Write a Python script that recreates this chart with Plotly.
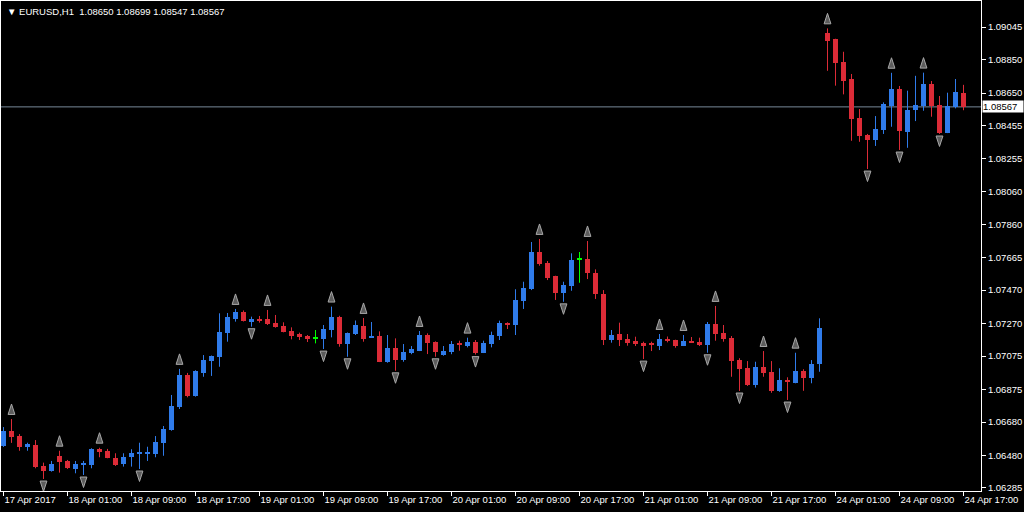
import plotly.graph_objects as go
from datetime import datetime, timedelta

# ---------------- data ----------------
symbol_title = "EURUSD,H1"
last_ohlc = [1.08650, 1.08699, 1.08547, 1.08567]

opens = [1.06538, 1.06626, 1.06596, 1.06532, 1.06543, 1.06419, 1.06387, 1.06477, 1.06447, 1.06399,
         1.06427, 1.06423, 1.06519, 1.06508, 1.06466, 1.06429, 1.06469, 1.06489, 1.06493, 1.06489,
         1.06556, 1.06632, 1.06772, 1.06962, 1.06836, 1.06975, 1.07047, 1.07071, 1.07215, 1.07297,
         1.07341, 1.07281, 1.07297, 1.07296, 1.07275, 1.07255, 1.07227, 1.07205, 1.07195, 1.07181,
         1.07179, 1.07231, 1.07307, 1.07147, 1.07207, 1.07255, 1.07187, 1.07195, 1.07041, 1.07123,
         1.07051, 1.07092, 1.07107, 1.07201, 1.07161, 1.07081, 1.07101, 1.07155, 1.07135, 1.07161,
         1.07095, 1.07147, 1.07195, 1.07275, 1.07261, 1.07406, 1.07475, 1.07698, 1.07634, 1.07554,
         1.07454, 1.07496, 1.07654, 1.07654, 1.07570, 1.07447, 1.07171, 1.07207, 1.07177, 1.07165,
         1.07155, 1.07147, 1.07135, 1.07177, 1.07171, 1.07137, 1.07165, 1.07161, 1.07141, 1.07267,
         1.07215, 1.07185, 1.07051, 1.07003, 1.06902, 1.07009, 1.06979, 1.06867, 1.06932, 1.06915,
         1.06986, 1.06942, 1.07026, 1.09011, 1.08973, 1.08837, 1.08734, 1.08502, 1.08399, 1.08369,
         1.08428, 1.08572, 1.08674, 1.08418, 1.08548, 1.08572, 1.08704, 1.08578, 1.08412, 1.08564,
         1.08650]
highs = [1.06650, 1.06698, 1.06608, 1.06556, 1.06572, 1.06437, 1.06447, 1.06508, 1.06453, 1.06447,
         1.06447, 1.06523, 1.06526, 1.06519, 1.06493, 1.06493, 1.06517, 1.06556, 1.06532, 1.06596,
         1.06656, 1.06842, 1.06998, 1.06974, 1.06990, 1.07081, 1.07078, 1.07331, 1.07333, 1.07357,
         1.07348, 1.07311, 1.07315, 1.07351, 1.07321, 1.07277, 1.07247, 1.07215, 1.07201, 1.07231,
         1.07261, 1.07371, 1.07316, 1.07216, 1.07288, 1.07303, 1.07279, 1.07223, 1.07201, 1.07181,
         1.07147, 1.07135, 1.07225, 1.07211, 1.07163, 1.07135, 1.07165, 1.07167, 1.07185, 1.07171,
         1.07167, 1.07221, 1.07287, 1.07277, 1.07475, 1.07520, 1.07758, 1.07776, 1.07644, 1.07556,
         1.07520, 1.07690, 1.07698, 1.07764, 1.07594, 1.07470, 1.07231, 1.07275, 1.07207, 1.07191,
         1.07161, 1.07161, 1.07207, 1.07192, 1.07173, 1.07201, 1.07189, 1.07185, 1.07279, 1.07375,
         1.07261, 1.07195, 1.07062, 1.07045, 1.07041, 1.07105, 1.07045, 1.07002, 1.06948, 1.07095,
         1.06996, 1.07051, 1.07301, 1.09037, 1.08975, 1.08897, 1.08764, 1.08554, 1.08405, 1.08512,
         1.08594, 1.08771, 1.08692, 1.08664, 1.08753, 1.08772, 1.08722, 1.08632, 1.08652, 1.08734,
         1.08699]
lows = [1.06531, 1.06555, 1.06508, 1.06508, 1.06403, 1.06339, 1.06383, 1.06377, 1.06399, 1.06373,
        1.06363, 1.06403, 1.06469, 1.06463, 1.06417, 1.06413, 1.06413, 1.06399, 1.06447, 1.06469,
        1.06478, 1.06628, 1.06758, 1.06828, 1.06832, 1.06951, 1.06956, 1.07011, 1.07161, 1.07281,
        1.07282, 1.07251, 1.07275, 1.07261, 1.07245, 1.07217, 1.07175, 1.07171, 1.07159, 1.07151,
        1.07117, 1.07187, 1.07131, 1.07071, 1.07201, 1.07161, 1.07183, 1.07039, 1.07035, 1.06987,
        1.07041, 1.07086, 1.07105, 1.07087, 1.07071, 1.07077, 1.07086, 1.07107, 1.07127, 1.07084,
        1.07093, 1.07127, 1.07171, 1.07237, 1.07201, 1.07357, 1.07470, 1.07616, 1.07530, 1.07411,
        1.07400, 1.07466, 1.07514, 1.07536, 1.07417, 1.07141, 1.07155, 1.07135, 1.07137, 1.07135,
        1.07057, 1.07105, 1.07111, 1.07157, 1.07125, 1.07135, 1.07153, 1.07135, 1.07095, 1.07167,
        1.07161, 1.06951, 1.06866, 1.06896, 1.06886, 1.06951, 1.06855, 1.06861, 1.06812, 1.06912,
        1.06867, 1.06912, 1.06981, 1.08783, 1.08694, 1.08642, 1.08364, 1.08358, 1.08195, 1.08333,
        1.08405, 1.08448, 1.08309, 1.08322, 1.08482, 1.08544, 1.08508, 1.08405, 1.08410, 1.08558,
        1.08547]
closes = [1.06626, 1.06592, 1.06532, 1.06547, 1.06409, 1.06389, 1.06429, 1.06443, 1.06403, 1.06427,
          1.06435, 1.06519, 1.06502, 1.06466, 1.06423, 1.06472, 1.06496, 1.06499, 1.06498, 1.06559,
          1.06638, 1.06776, 1.06962, 1.06836, 1.06985, 1.07051, 1.07075, 1.07221, 1.07311, 1.07341,
          1.07287, 1.07297, 1.07287, 1.07267, 1.07251, 1.07221, 1.07195, 1.07191, 1.07177, 1.07181,
          1.07235, 1.07307, 1.07147, 1.07211, 1.07261, 1.07177, 1.07195, 1.07041, 1.07123, 1.07051,
          1.07099, 1.07117, 1.07201, 1.07155, 1.07101, 1.07105, 1.07147, 1.07139, 1.07161, 1.07092,
          1.07155, 1.07201, 1.07275, 1.07263, 1.07411, 1.07481, 1.07698, 1.07626, 1.07544, 1.07454,
          1.07500, 1.07650, 1.07654, 1.07570, 1.07447, 1.07171, 1.07201, 1.07171, 1.07155, 1.07147,
          1.07137, 1.07143, 1.07177, 1.07165, 1.07135, 1.07165, 1.07155, 1.07141, 1.07267, 1.07207,
          1.07177, 1.07045, 1.06997, 1.06902, 1.07009, 1.06975, 1.06867, 1.06932, 1.06918, 1.06986,
          1.06942, 1.07027, 1.07241, 1.08963, 1.08831, 1.08724, 1.08496, 1.08394, 1.08369, 1.08434,
          1.08584, 1.08674, 1.08424, 1.08548, 1.08578, 1.08704, 1.08572, 1.08412, 1.08574, 1.08658,
          1.08567]

# Bill Williams fractals (bar indices)
up_fractals = [1, 7, 12, 22, 29, 33, 41, 45, 52, 58, 67, 73, 82, 85, 89, 95, 99, 103, 111, 115]
down_fractals = [5, 10, 17, 31, 40, 43, 49, 54, 59, 70, 80, 88, 92, 98, 108, 112, 117]

price_ticks = [1.09045, 1.08850, 1.08650, 1.08455, 1.08255, 1.08060, 1.07860, 1.07665,
               1.07470, 1.07270, 1.07075, 1.06875, 1.06680, 1.06480, 1.06285]
time_tick_labels = ["17 Apr 2017", "18 Apr 01:00", "18 Apr 09:00", "18 Apr 17:00",
                    "19 Apr 01:00", "19 Apr 09:00", "19 Apr 17:00", "20 Apr 01:00",
                    "20 Apr 09:00", "20 Apr 17:00", "21 Apr 01:00", "21 Apr 09:00",
                    "21 Apr 17:00", "24 Apr 01:00", "24 Apr 09:00", "24 Apr 17:00"]
bid_price = 1.08567

# hourly bar times (H1, weekdays only), first bar 17 Apr 2017 17:00
times = []
t = datetime(2017, 4, 17, 17)
while len(times) < len(opens):
    if t.weekday() < 5:
        times.append(t.strftime("%Y-%m-%d %H:%M"))
    t += timedelta(hours=1)

# ---------------- style ----------------
BG = "#000000"
FG = "#FFFFFF"
BULL = "#2F7BEA"
BEAR = "#DC2B37"
DOJI = "#00FF00"
FRACTAL_FILL = "#5C5C5C"
FRACTAL_EDGE = "#A8A8A8"
FONT = "Liberation Sans, Arial, sans-serif"
MIN_BODY = 0.00006
UP_OFF = 0.0009
DN_OFF = 0.00075

fig = go.Figure()

groups = {BULL: [], BEAR: [], DOJI: []}
for i in range(len(opens)):
    o, c = opens[i], closes[i]
    col = BULL if c > o else (BEAR if c < o else DOJI)
    groups[col].append(i)

for col, idx in groups.items():
    if not idx:
        continue
    wx, wy = [], []
    for i in idx:
        wx += [times[i], times[i], None]
        wy += [lows[i], highs[i], None]
    fig.add_trace(go.Scatter(x=wx, y=wy, mode="lines", line=dict(color=col, width=1),
                             hoverinfo="skip", showlegend=False))
    heights, bases, xs = [], [], []
    for i in idx:
        o, c = opens[i], closes[i]
        h = abs(c - o)
        if h < MIN_BODY:
            bases.append((o + c) / 2 - MIN_BODY / 2)
            heights.append(MIN_BODY)
        else:
            bases.append(min(o, c))
            heights.append(h)
        xs.append(times[i])
    fig.add_trace(go.Bar(x=xs, y=heights, base=bases, width=0.625,
                         marker=dict(color=col, line=dict(width=0)),
                         showlegend=False, hoverinfo="skip"))

fig.add_trace(go.Scatter(
    x=[times[i] for i in up_fractals], y=[highs[i] + UP_OFF for i in up_fractals],
    mode="markers", marker=dict(symbol="arrow", angle=0, size=11, color=FRACTAL_FILL,
                                line=dict(color=FRACTAL_EDGE, width=1)),
    showlegend=False, hoverinfo="skip"))
fig.add_trace(go.Scatter(
    x=[times[i] for i in down_fractals], y=[lows[i] - DN_OFF for i in down_fractals],
    mode="markers", marker=dict(symbol="arrow", angle=180, size=11, color=FRACTAL_FILL,
                                line=dict(color=FRACTAL_EDGE, width=1)),
    showlegend=False, hoverinfo="skip"))

fig.add_shape(type="line", xref="paper", x0=0, x1=1, yref="y", y0=bid_price, y1=bid_price,
              line=dict(color="#778899", width=1), layer="below")

fig.add_annotation(xref="paper", x=1, xanchor="left", xshift=1, yref="y", y=bid_price,
                   yanchor="middle", text=f"{bid_price:.5f}", showarrow=False,
                   bgcolor="#FFFFFF", font=dict(color="#000000", size=9.5, family=FONT),
                   width=40, align="left", borderpad=0)

header = "\u25BC " + symbol_title + "\u00a0\u00a0" + " ".join(f"{v:.5f}" for v in last_ohlc)
fig.add_annotation(xref="paper", yref="paper", x=0, y=1, xanchor="left", yanchor="top",
                   xshift=4, yshift=-3, text=header, showarrow=False,
                   font=dict(color=FG, size=9.5, family=FONT))

fig.update_layout(
    width=1024, height=512,
    margin=dict(l=1, r=43, t=1, b=21),
    paper_bgcolor=BG, plot_bgcolor=BG,
    barmode="overlay", bargap=0,
    showlegend=False,
    font=dict(family=FONT, size=9.5, color=FG),
    xaxis=dict(type="category", categoryorder="array", categoryarray=times,
               range=[-0.3125, -0.3125 + 980 / 8],
               showgrid=False, zeroline=False,
               showline=True, linecolor=FG, linewidth=1, mirror=True,
               ticks="outside", ticklen=4, tickcolor=FG,
               tickvals=times[::8], ticktext=time_tick_labels,
               ticklabelposition="outside right",
               tickfont=dict(color=FG, size=9.5, family=FONT)),
    yaxis=dict(side="right", range=[1.06267, 1.09201],
               showgrid=False, zeroline=False,
               showline=True, linecolor=FG, linewidth=1, mirror=True,
               ticks="outside", ticklen=4, tickcolor=FG,
               tickvals=price_ticks, ticktext=[f"{v:.5f}" for v in price_ticks],
               tickfont=dict(color=FG, size=9.5, family=FONT)),
)

fig.write_html("out.html", config={"displayModeBar": False},
               post_script="document.body.style.margin='0';document.body.style.padding='0';"
                           "document.body.style.background='#000';")
